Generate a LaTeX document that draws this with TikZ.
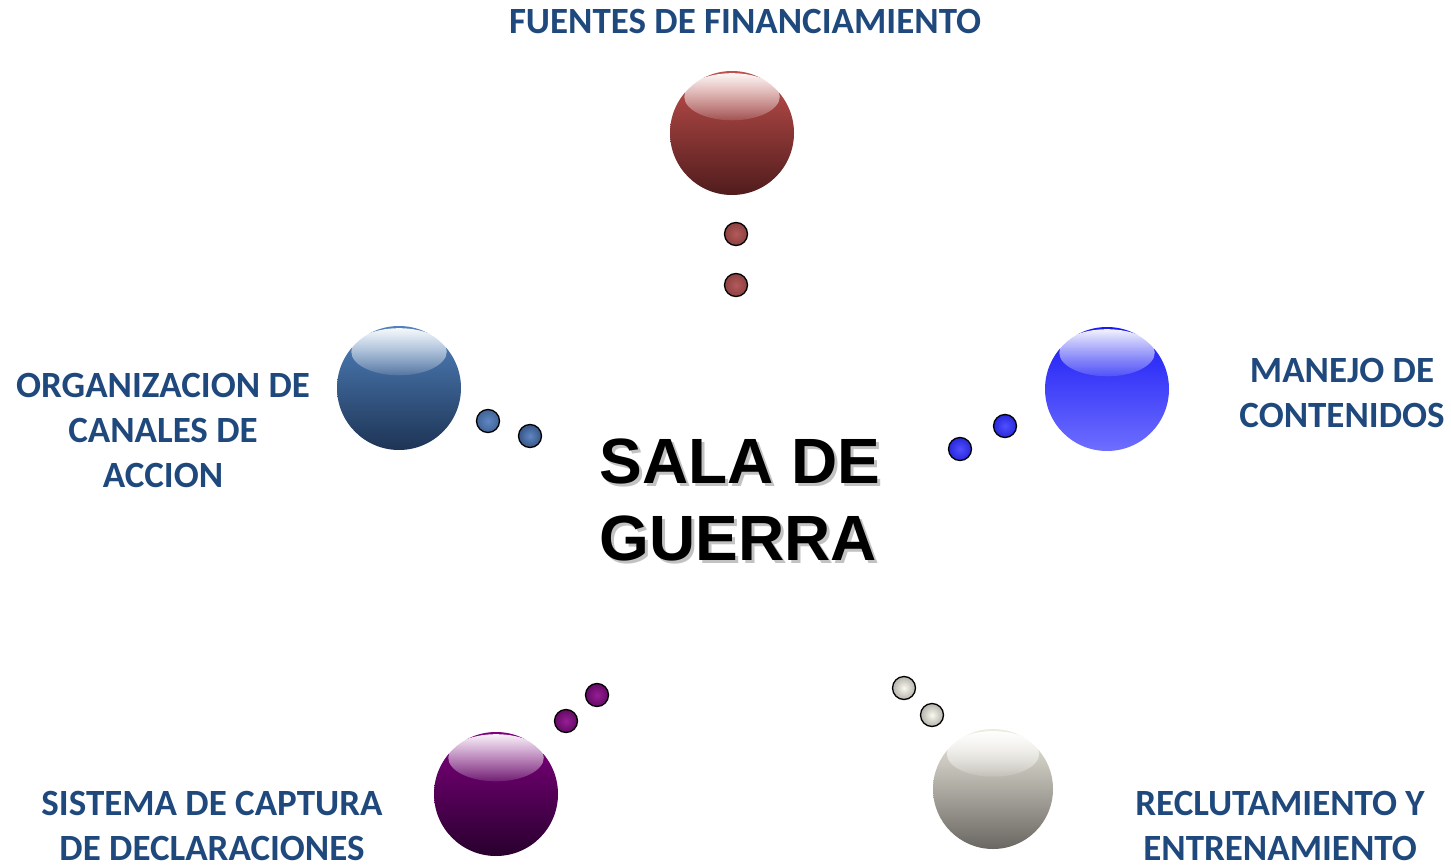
\documentclass[tikz,border=0pt]{standalone}
\usepackage{fontspec}
\setmainfont{Carlito}
\newfontfamily\titlefont{Liberation Sans}
\usetikzlibrary{fadings,calc}
\definecolor{lbl}{HTML}{1F497D}
\tikzfading[name=glossfade, top color=transparent!5, bottom color=transparent!88]
\tikzset{
  ball/.style={circle, minimum size=124pt, inner sep=0pt},
  dot/.style={circle, draw=black, line width=1.3pt, minimum size=23pt, inner sep=0pt},
  lab/.style={font=\bfseries\fontsize{37}{45}\selectfont, text=lbl, align=center, inner sep=0pt},
  titletxt/.style={font=\titlefont\bfseries\fontsize{64}{77}\selectfont, align=left, inner sep=0pt},
}
\newcommand\gloss[2]{% center, radius
  \fill[white, path fading=glossfade] ($(#1)+(0,-0.585*#2)$) ellipse [x radius=0.77*#2, y radius=0.38*#2];
}
\begin{document}
\begin{tikzpicture}[x=1pt,y=-1pt]
\useasboundingbox (0,0) rectangle (1451,867);
% spheres
\node[ball, top color={rgb,255:red,192;green,80;blue,77}, bottom color={rgb,255:red,80;green,28;blue,28}] (fin) at (732,133) {};
\gloss{fin.center}{62}
\node[ball, top color={rgb,255:red,80;green,130;blue,190}, bottom color={rgb,255:red,30;green,52;blue,85}] (org) at (399,388) {};
\gloss{org.center}{62}
\node[ball, top color={rgb,255:red,25;green,25;blue,245}, bottom color={rgb,255:red,110;green,110;blue,255}] (man) at (1107,389) {};
\gloss{man.center}{62}
\node[ball, top color={rgb,255:red,128;green,0;blue,128}, bottom color={rgb,255:red,40;green,0;blue,45}] (sis) at (496,794) {};
\gloss{sis.center}{62}
\node[ball, minimum size=120pt, top color={rgb,255:red,238;green,236;blue,225}, bottom color={rgb,255:red,105;green,103;blue,97}] (rec) at (993,789) {};
\gloss{rec.center}{60}
% dots
\node[dot, inner color={rgb,255:red,180;green,90;blue,90}, outer color={rgb,255:red,140;green,65;blue,65}] (f1) at (736,234) {};
\node[dot, inner color={rgb,255:red,180;green,90;blue,90}, outer color={rgb,255:red,140;green,65;blue,65}] (f2) at (736,285) {};
\node[dot, inner color={rgb,255:red,95;green,135;blue,195}, outer color={rgb,255:red,65;green,100;blue,150}] (o1) at (488,421) {};
\node[dot, inner color={rgb,255:red,95;green,135;blue,195}, outer color={rgb,255:red,55;green,85;blue,135}] (o2) at (530,436) {};
\node[dot, inner color={rgb,255:red,80;green,80;blue,255}, outer color={rgb,255:red,40;green,40;blue,220}] (m1) at (1005,426) {};
\node[dot, inner color={rgb,255:red,80;green,80;blue,255}, outer color={rgb,255:red,40;green,40;blue,220}] (m2) at (960,449) {};
\node[dot, inner color={rgb,255:red,150;green,30;blue,150}, outer color={rgb,255:red,100;green,10;blue,100}] (s1) at (597,695) {};
\node[dot, inner color={rgb,255:red,150;green,30;blue,150}, outer color={rgb,255:red,100;green,10;blue,100}] (s2) at (566,721) {};
\node[dot, inner color={rgb,255:red,250;green,250;blue,240}, outer color={rgb,255:red,180;green,178;blue,170}] (r1) at (904,688) {};
\node[dot, inner color={rgb,255:red,250;green,250;blue,240}, outer color={rgb,255:red,180;green,178;blue,170}] (r2) at (932,715) {};
% labels
\node[lab] (lfin) at (745,22) {FUENTES DE FINANCIAMIENTO};
\node[lab] (lorg) at (163,430) {ORGANIZACION DE\\CANALES DE\\ACCION};
\node[lab] (lman) at (1342,393) {MANEJO DE\\CONTENIDOS};
\node[lab, anchor=north] (lsis) at (212,791) {SISTEMA DE CAPTURA\\DE DECLARACIONES};
\node[lab, anchor=north] (lrec) at (1280,791) {RECLUTAMIENTO Y\\ENTRENAMIENTO};
% center title with soft shadow
\node[titletxt, text=black!40, opacity=0.6] (shadow) at (743,503) {SALA DE\\GUERRA};
\node[titletxt, text=black] (title) at (740,500) {SALA DE\\GUERRA};
\end{tikzpicture}
\end{document}
